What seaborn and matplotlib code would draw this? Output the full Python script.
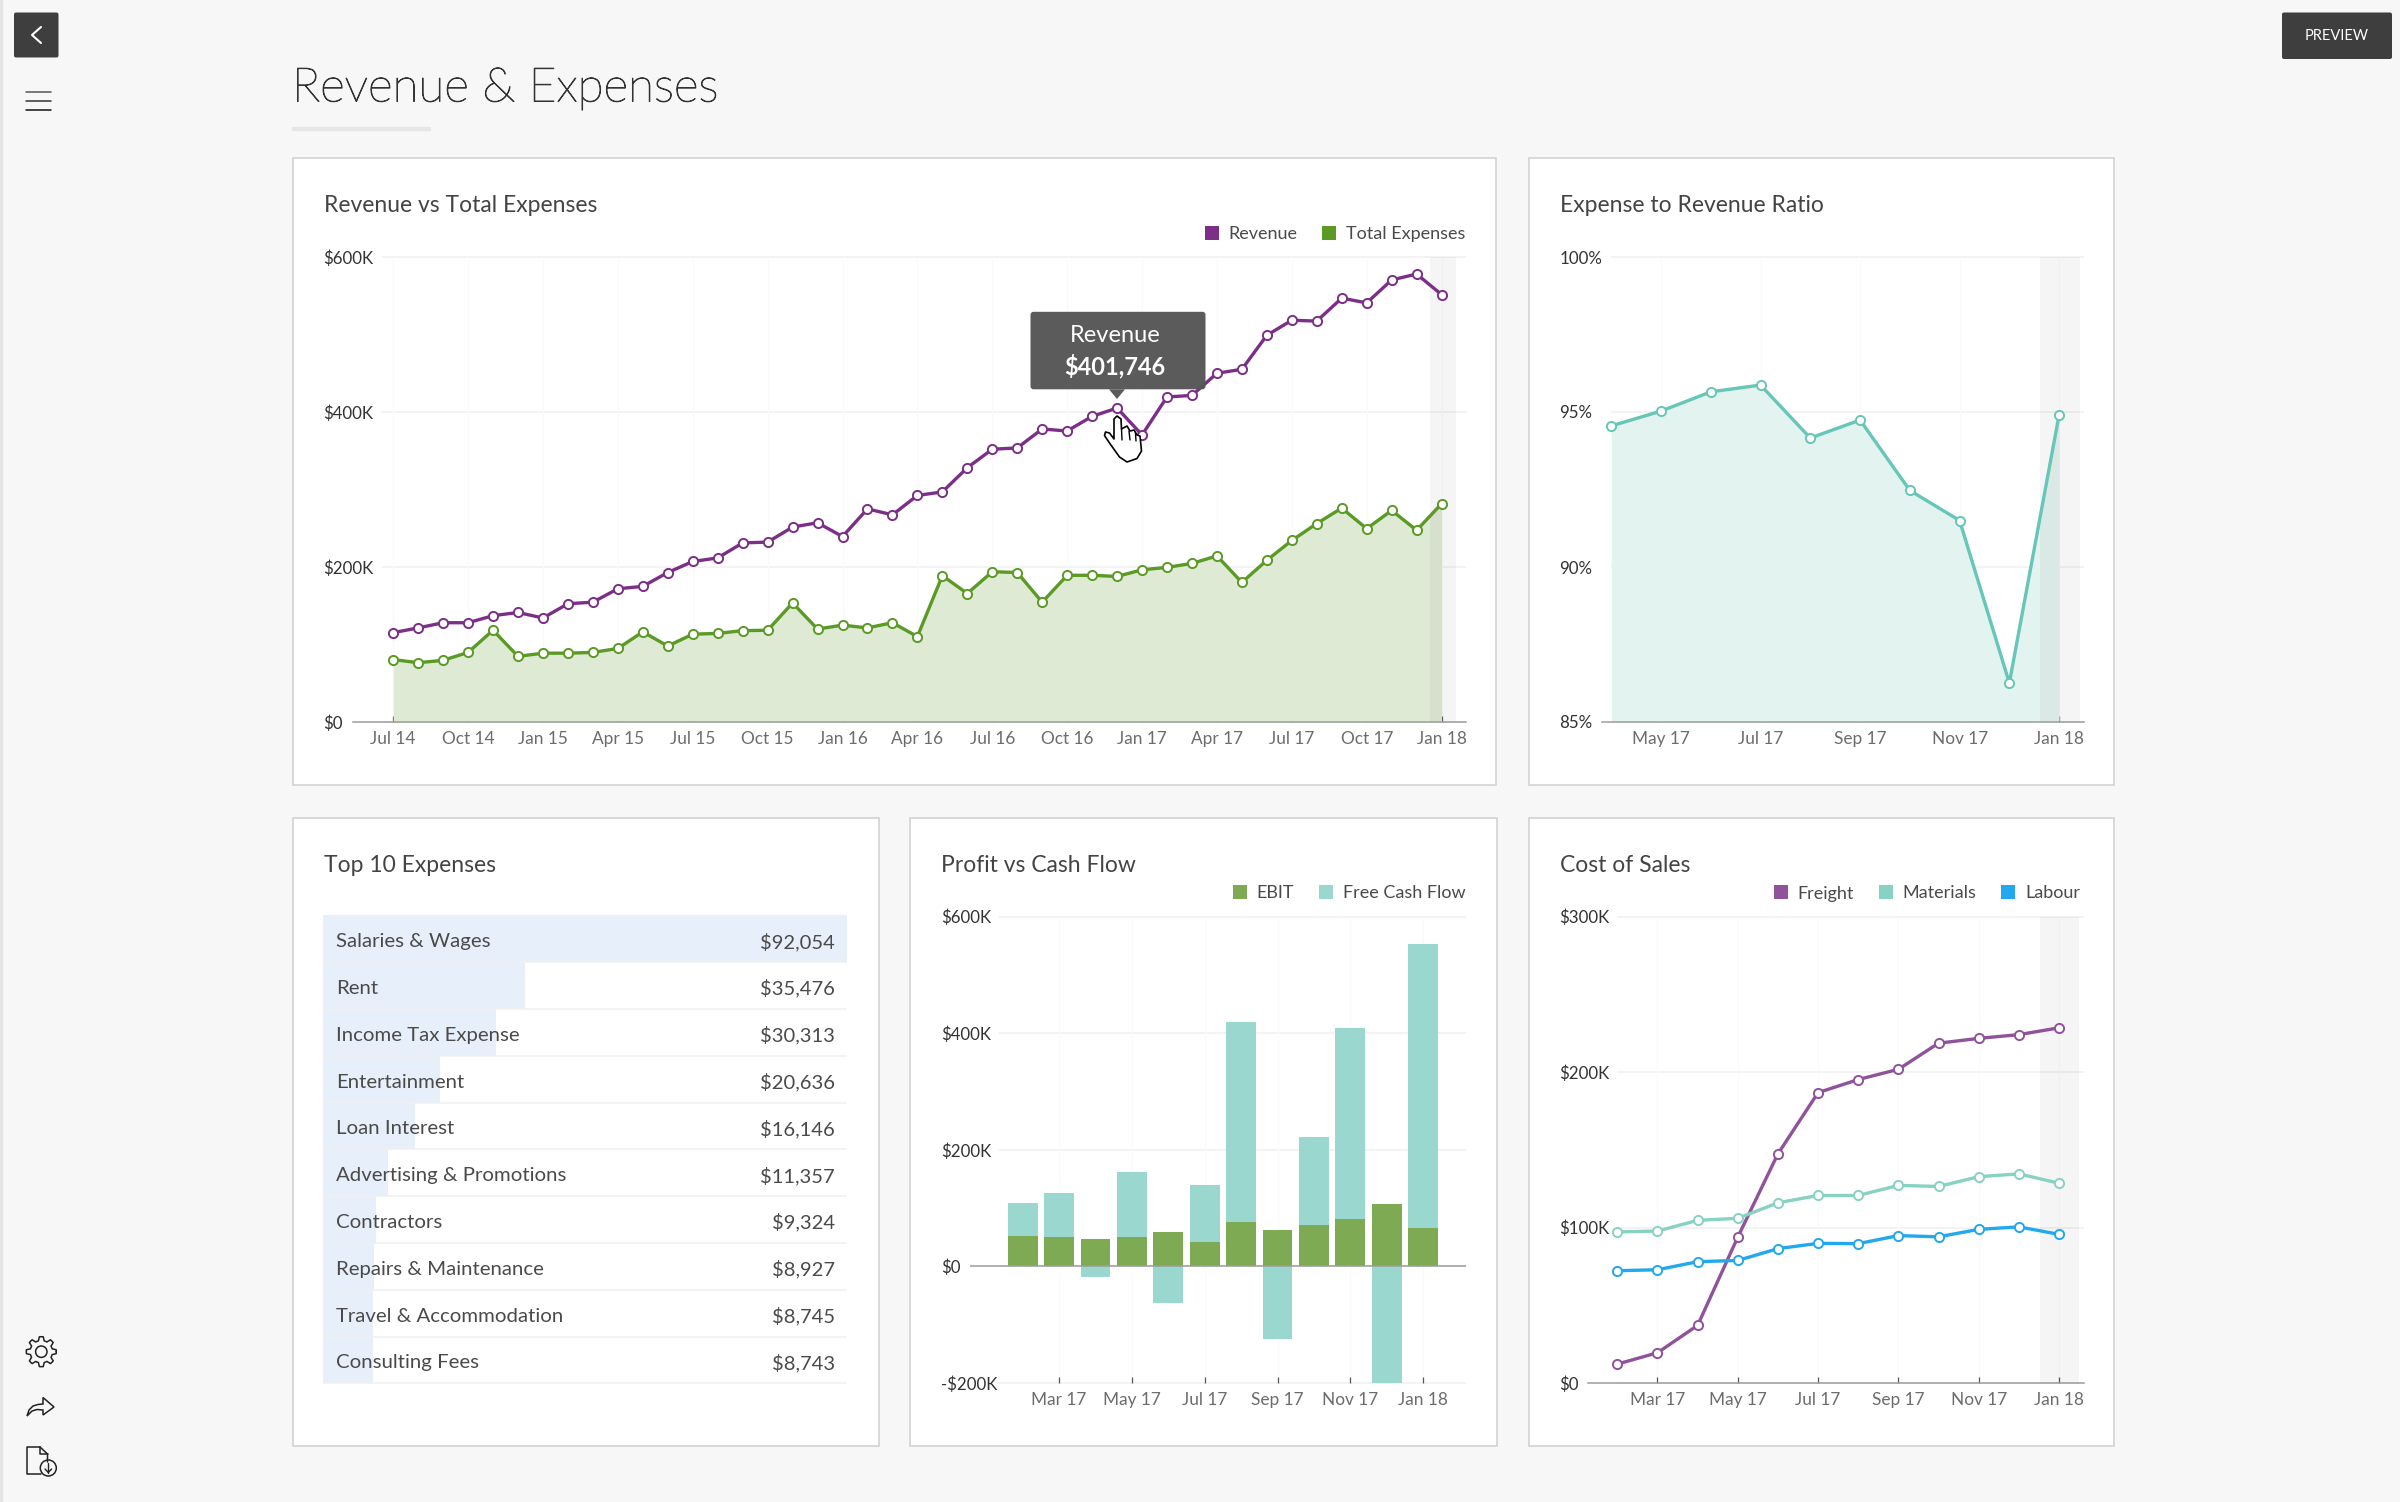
#!/usr/bin/env python3
import numpy as np
import pandas as pd
import matplotlib
matplotlib.use("Agg")
import matplotlib.pyplot as plt
import matplotlib.patheffects as pe
from matplotlib.lines import Line2D
from matplotlib.patches import Circle, FancyBboxPatch, Polygon, Rectangle
import seaborn as sns

W, H = 2400, 1502

# revenue vs total expenses, monthly Jul 14 - Jan 18 ($K)
revenue = [115.3, 121.4, 128.1, 128.1, 137.2, 141.3, 134.2, 152.6, 154.6, 171.9, 175.0,
           192.9, 207.1, 211.7, 231.1, 232.1, 251.5, 257.1, 239.3, 275.0, 267.3, 292.3,
           296.9, 328.1, 352.0, 353.6, 378.1, 375.5, 394.4, 405.1, 370.4, 419.4, 421.4,
           450.0, 455.1, 499.0, 518.4, 517.3, 546.9, 540.8, 570.4, 578.0, 551.5]
total_expenses = [80.6, 76.5, 79.6, 89.8, 118.4, 84.7, 88.8, 88.8, 89.8, 94.9, 116.3,
                  98.0, 113.3, 114.3, 117.9, 118.4, 153.6, 119.9, 125.0, 121.4, 128.1, 110.2,
                  188.8, 165.8, 193.9, 192.9, 154.6, 189.3, 189.3, 187.8, 196.4, 199.5, 204.6,
                  214.3, 180.1, 208.7, 234.2, 256.1, 276.0, 249.5, 273.0, 247.4, 281.6]
long_ticks = ["Jul 14", "Oct 14", "Jan 15", "Apr 15", "Jul 15", "Oct 15", "Jan 16", "Apr 16",
              "Jul 16", "Oct 16", "Jan 17", "Apr 17", "Jul 17", "Oct 17", "Jan 18"]

# expense to revenue ratio, Apr 17 - Jan 18 (%)
ratio = [94.55, 95.03, 95.65, 95.87, 94.16, 94.74, 92.47, 91.50, 86.26, 94.91]
ratio_ticks = ["May 17", "Jul 17", "Sep 17", "Nov 17", "Jan 18"]

# top 10 expenses
expense_names = ["Salaries & Wages", "Rent", "Income Tax Expense", "Entertainment", "Loan Interest",
                 "Advertising & Promotions", "Contractors", "Repairs & Maintenance",
                 "Travel & Accommodation", "Consulting Fees"]
expense_values = [92054, 35476, 30313, 20636, 16146, 11357, 9324, 8927, 8745, 8743]

# profit vs cash flow, Feb 17 - Jan 18 ($K)
bar_months = ["Feb 17", "Mar 17", "Apr 17", "May 17", "Jun 17", "Jul 17", "Aug 17", "Sep 17",
              "Oct 17", "Nov 17", "Dec 17", "Jan 18"]
ebit = [52.5, 51.1, 47.6, 51.1, 58.8, 41.3, 75.7, 61.6, 70.8, 82.0, 106.5, 65.1]
free_cash_flow = [108.6, 126.1, -18.9, 161.8, -62.3, 140.1, 418.9, -124.0, 221.4, 409.8, -230.0, 552.7]
short_ticks = ["Mar 17", "May 17", "Jul 17", "Sep 17", "Nov 17", "Jan 18"]

# cost of sales, Feb 17 - Jan 18 ($K)
freight = [12.1, 19.4, 37.0, 93.8, 147.4, 186.8, 195.2, 201.8, 218.6, 221.7, 224.1, 228.5]
materials = [97.2, 97.7, 104.6, 105.9, 115.9, 120.6, 120.6, 127.1, 126.4, 132.7, 134.5, 128.5]
labour = [72.2, 72.8, 78.0, 78.8, 86.4, 89.8, 89.6, 94.8, 94.0, 98.8, 100.4, 95.6]

PURPLE = "#7b2f87"
GREEN = "#5b9a24"
TEAL = "#66c6b8"
BAR_GREEN = "#7faa54"
BAR_TEAL = "#9ad8cf"
FREIGHT = "#8f529b"
MATERIALS = "#88d2c4"
LABOUR = "#21a8ee"
GRID = "#f0f0f0"
BASE = "#9c9c9c"
PAGE = "#f7f7f7"

sns.set_style("white")
plt.rcParams["font.family"] = ["Lato", "DejaVu Sans"]


def px_axes(left, top, right, bottom, **kw):
    return fig.add_axes([left / W, 1 - bottom / H, (right - left) / W, (bottom - top) / H], **kw)


def line(ax, x, y, color):
    sns.lineplot(x=x, y=y, ax=ax, color=color, linewidth=2.4, marker="o", markersize=6.6,
                 markerfacecolor="white", markeredgecolor=color, markeredgewidth=1.4,
                 errorbar=None, sort=False, zorder=4)


def style(ax, xlim, ylim, yticks, ylabels, xticks, xlabels, grid_from, ypad):
    ax.set_xlim(*xlim)
    ax.set_ylim(*ylim)
    ax.set_facecolor("none")
    ax.set_xlabel(None)
    ax.set_ylabel(None)
    sns.despine(ax=ax, left=True)
    ax.spines["bottom"].set_color(BASE)
    ax.spines["bottom"].set_linewidth(1.1)
    ax.hlines(yticks, grid_from, xlim[1], color=GRID, linewidth=1.1, zorder=0, clip_on=False)
    ax.vlines(xticks, ylim[0], ylim[1], color="#fafafa", linewidth=0.8, zorder=0)
    ax.set_xticks(xticks, xlabels)
    ax.set_yticks(yticks, ylabels)
    ax.tick_params(axis="x", bottom=True, direction="in", length=4.5, width=0.9, color="#555555",
                   labelsize=12.4, labelcolor="#6c6c6c", pad=6.5)
    ax.tick_params(axis="y", left=False, length=0, labelsize=12.2, labelcolor="#333333", pad=ypad)
    for lab in ax.get_yticklabels():
        lab.set_ha("left")


def legend(ax, items, right, y):
    handles = [Line2D([], [], linestyle="", marker="s", markersize=10.5, markeredgewidth=0,
                      color=c, label=n) for n, c in items]
    ax.legend(handles=handles, ncol=len(items), loc="center right", frameon=False,
              bbox_to_anchor=(right / W, 1 - y / H), bbox_transform=fig.transFigure,
              borderpad=0, borderaxespad=0, handlelength=0.81, handletextpad=0.52,
              columnspacing=1.36, fontsize=13, labelcolor="#4a4a4a")


fig = plt.figure(figsize=(W / 100, H / 100), dpi=100, facecolor=PAGE)

# page furniture in pixel coordinates
bg = fig.add_axes([0, 0, 1, 1])
bg.set_xlim(0, W)
bg.set_ylim(H, 0)
bg.axis("off")
bg.add_patch(Rectangle((0, 0), 2, H, color="#e4e4e4"))
cards = [(292.5, 158, 1496, 785), (1528.5, 158, 2114, 785),
         (292.5, 817.5, 878.5, 1446), (909.5, 817.5, 1496.5, 1446), (1528.5, 817.5, 2114, 1446)]
for l, t, r, b in cards:
    bg.add_patch(Rectangle((l, t), r - l, b - t, facecolor="white", edgecolor="#cfcfcf", linewidth=1.1))
heading = bg.text(292, 89, "Revenue & Expenses", fontsize=34.3, fontweight="light", color="#333333", va="center")
heading.set_path_effects([pe.withStroke(linewidth=0.7, foreground="#333333")])
bg.add_patch(Rectangle((292, 126.5), 137.5, 3, color="#e6e6e6"))
title_pos = [(323.5, 205, "Revenue vs Total Expenses"), (1559.5, 205, "Expense to Revenue Ratio"),
             (323.5, 865, "Top 10 Expenses"), (941, 865, "Profit vs Cash Flow"), (1559.5, 865, "Cost of Sales")]
for x, y, s in title_pos:
    bg.text(x, y, s, fontsize=16.5, color="#444444", va="center")

# back and preview buttons, sidebar icons
for l, t, r, b in [(14, 12.5, 58.5, 57.5), (2282, 12.5, 2392, 59)]:
    bg.add_patch(FancyBboxPatch((l + 2, t + 2), r - l - 4, b - t - 4, boxstyle="round,pad=2",
                                facecolor="#3e3e3e", edgecolor="none"))
bg.plot([41, 32, 41], [27, 35, 43], color="white", linewidth=1.5)
bg.text(2337, 36, "PREVIEW", color="white", fontsize=10.5, ha="center", va="center")
for y, c in [(92, "#555555"), (100.5, "#333333"), (109.5, "#111111")]:
    bg.plot([26, 50.5], [y, y], color=c, linewidth=1.1)

ang = np.linspace(0, 2 * np.pi, 49)
rad = np.where(np.cos(8 * ang) > 0.25, 15, 11.2)
bg.plot(41.3 + rad * np.cos(ang), 1351.7 + rad * np.sin(ang), color="#222222", linewidth=1.1)
bg.add_patch(Circle((41.3, 1351.7), 5.7, fill=False, edgecolor="#222222", linewidth=1.1))
bg.add_patch(Polygon([(27, 1416), (29, 1410), (33, 1406), (38, 1404.5), (43, 1404), (43, 1397.5),
                      (54, 1407), (43, 1415), (43, 1410), (37, 1409.5), (32, 1411)],
                     closed=True, fill=False, edgecolor="#222222", linewidth=1.1))
bg.plot([40, 27, 27, 41], [1447, 1447, 1474, 1474], color="#222222", linewidth=1.1)
bg.plot([40, 47.5, 47.5], [1447, 1454, 1462], color="#222222", linewidth=1.1)
bg.plot([40, 40, 47.5], [1447, 1454, 1454], color="#222222", linewidth=1.1)
bg.add_patch(Circle((48.3, 1468), 8, facecolor=PAGE, edgecolor="#222222", linewidth=1.1))
bg.plot([48.3, 48.3], [1463, 1472.5], color="#222222", linewidth=1)
bg.plot([45, 48.3, 51.6], [1469, 1472.5, 1469], color="#222222", linewidth=1)

# Revenue vs Total Expenses
ax = px_axes(352.5, 257, 1465.8, 722)
x = np.arange(len(revenue))
ax.fill_between(x, total_expenses, color="#dfead5", linewidth=0, zorder=1)
ax.axvspan(41.55, 42.56, color="black", alpha=0.04, linewidth=0, zorder=2)
line(ax, x, total_expenses, GREEN)
line(ax, x, revenue, PURPLE)
style(ax, (-1.63, 42.97), (0, 600), [0, 200, 400, 600], ["$0", "$200K", "$400K", "$600K"],
      list(range(0, 43, 3)), long_ticks, -0.45, 20.8)
legend(ax, [("Revenue", PURPLE), ("Total Expenses", GREEN)], 1465.5, 234)

# Expense to Revenue Ratio
ax = px_axes(1601.8, 257, 2083.5, 722)
x = np.arange(len(ratio))
ax.fill_between(x, ratio, 85, color="#e3f3ef", linewidth=0, zorder=1)
ax.axvspan(8.61, 9.41, color="black", alpha=0.04, linewidth=0, zorder=2)
line(ax, x, ratio, TEAL)
style(ax, (-0.19, 9.49), (85, 100), [85, 90, 95, 100], ["85%", "90%", "95%", "100%"],
      [1, 3, 5, 7, 9], ratio_ticks, 0, 30.4)

# Top 10 Expenses
ax = px_axes(322.9, 915.4, 847.4, 1383.3)
sns.barplot(x=expense_values, y=expense_names, orient="h", color="#e7effb", saturation=1, width=1,
            linewidth=0, ax=ax)
ax.set_xlim(0, max(expense_values))
ax.set_ylim(9.5, -0.5)
ax.axis("off")
ax.hlines(np.arange(10) + 0.5, 0, max(expense_values), color=GRID, linewidth=1.1, zorder=3, clip_on=False)
for i, (name, val) in enumerate(zip(expense_names, expense_values)):
    ax.text(0.025, i + 0.03, name, transform=ax.get_yaxis_transform(), fontsize=14.7, color="#4a4a4a",
            va="center_baseline", ha="left", zorder=4)
    ax.text(0.976, i + 0.03, f"${val:,}", transform=ax.get_yaxis_transform(), fontsize=14.5, color="#4a4a4a",
            va="center_baseline", ha="right", zorder=4)

# Profit vs Cash Flow
ax = px_axes(970, 916.7, 1465.8, 1382.9)
sns.barplot(x=bar_months, y=free_cash_flow, color=BAR_TEAL, saturation=1, width=0.82, linewidth=0, ax=ax, zorder=2)
sns.barplot(x=bar_months, y=ebit, color=BAR_GREEN, saturation=1, width=0.82, linewidth=0, ax=ax, zorder=2)
style(ax, (-1.445, 12.17), (-200, 600), [-200, 0, 200, 400, 600],
      ["-$200K", "$0", "$200K", "$400K", "$600K"], [1, 3, 5, 7, 9, 11], short_ticks, -0.64, 20.9)
ax.spines["bottom"].set_visible(False)
ax.axhline(0, color=BASE, linewidth=1.1, zorder=3)
legend(ax, [("EBIT", BAR_GREEN), ("Free Cash Flow", BAR_TEAL)], 1465.5, 893.5)

# Cost of Sales
ax = px_axes(1588.4, 916.7, 2083.5, 1382.9)
x = np.arange(len(freight))
ax.axvspan(10.52, 11.51, color="black", alpha=0.04, linewidth=0, zorder=2)
line(ax, x, freight, FREIGHT)
line(ax, x, materials, MATERIALS)
line(ax, x, labour, LABOUR)
style(ax, (-0.72, 11.61), (0, 300), [0, 100, 200, 300], ["$0", "$100K", "$200K", "$300K"],
      [1, 3, 5, 7, 9, 11], short_ticks, 0, 20.8)
legend(ax, [("Freight", FREIGHT), ("Materials", MATERIALS), ("Labour", LABOUR)], 2080, 893.5)

# tooltip and pointer sit above the charts
top = fig.add_axes([0, 0, 1, 1], zorder=10)
top.set_xlim(0, W)
top.set_ylim(H, 0)
top.axis("off")
top.add_patch(FancyBboxPatch((1033.5, 314.8), 169, 71.5, boxstyle="round,pad=3", facecolor="#565656",
                             edgecolor="none", alpha=0.97))
top.add_patch(Polygon([(1109, 389.3), (1125, 389.3), (1117, 399)], closed=True, facecolor="#565656",
                      edgecolor="none", alpha=0.97))
top.text(1115, 336, "Revenue", color="white", fontsize=17, ha="center", va="center")
top.text(1115, 366, "$401,746", color="white", fontsize=17, fontweight="bold", ha="center", va="center")
hand = [(1114, 419), (1117, 416), (1121, 419), (1121.5, 429), (1127, 426), (1130, 431), (1134, 430),
        (1137, 435), (1140, 436), (1141.5, 451), (1137, 458.5), (1127, 462), (1119.5, 457),
        (1109.5, 443), (1104.5, 435.5), (1105.5, 432), (1109.5, 433), (1114, 439)]
top.add_patch(Polygon(hand, closed=True, facecolor="white", edgecolor="black", linewidth=1.2, joinstyle="round"))
for xs, ys in [([1121.5, 1122], [429, 440]), ([1129, 1130], [431, 440]), ([1135.5, 1136], [433, 441])]:
    top.plot(xs, ys, color="black", linewidth=1)

fig.savefig("out.png", dpi=100, facecolor=fig.get_facecolor())
